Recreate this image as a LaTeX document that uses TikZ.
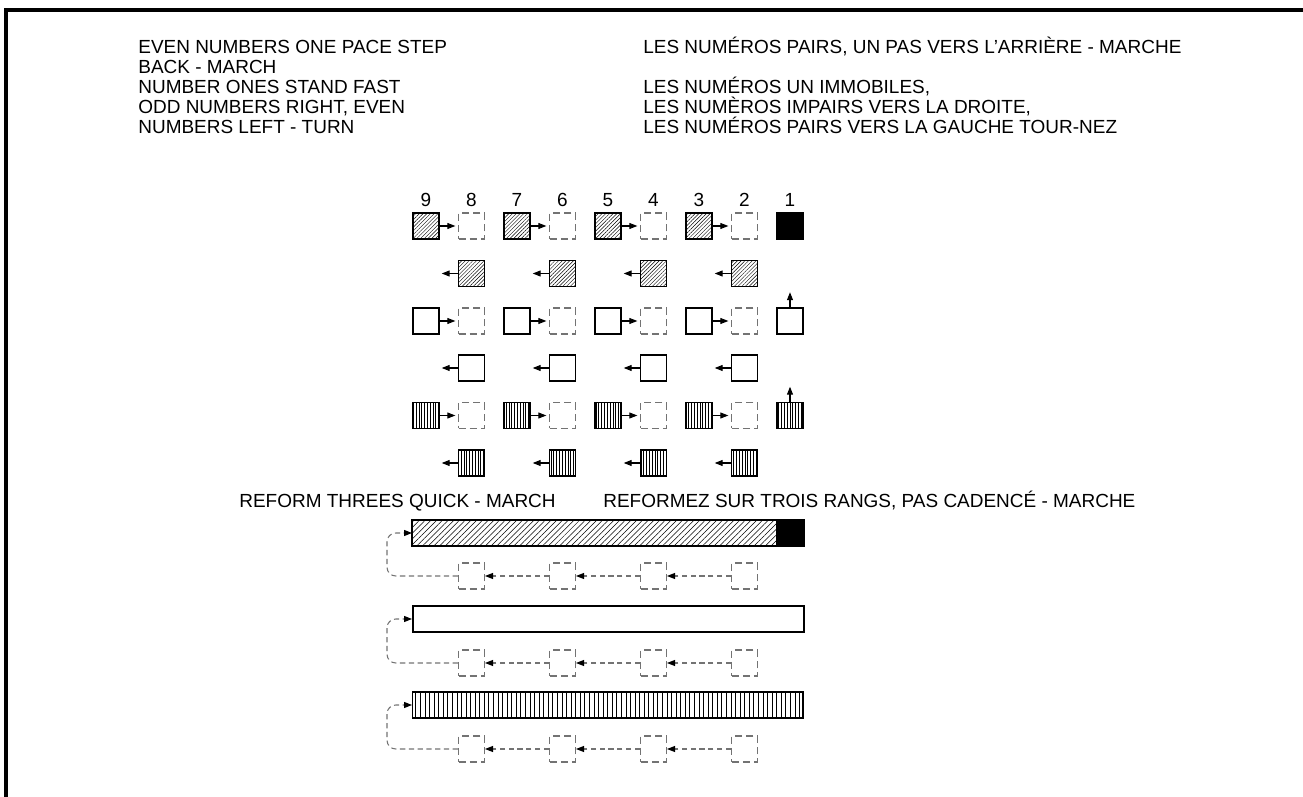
\documentclass[tikz,border=0pt]{standalone}
\usepackage{fontspec}
\setmainfont{Liberation Sans}
\usetikzlibrary{positioning,arrows.meta,calc,patterns.meta}

\begin{document}
\begin{tikzpicture}[
  x=0.02cm, y=-0.02cm,
  txt/.style={font=\fontsize{10.8}{11.4}\selectfont, inner sep=0pt},
  man/.style={draw, line width=0.9pt, minimum size=0.52cm, inner sep=0pt},
  hatch/.style={man, pattern={Lines[angle=45,distance=1.5pt,line width=0.25pt]}},
  vhatch/.style={man, pattern={Lines[angle=90,distance=1.6pt,line width=0.35pt]}},
  lead/.style={man, fill=black},
  ghost/.style={draw=black!55, dash pattern=on 4pt off 2.4pt, line width=0.6pt,
                minimum size=0.52cm, inner sep=0pt},
  bar/.style={draw, line width=0.9pt, minimum height=0.52cm, inner sep=0pt, anchor=west},
  arrow/.style={-{Triangle[length=1.6mm,width=1.2mm]}, line width=0.6pt},
  darrow/.style={-{Triangle[length=1.6mm,width=1.2mm,black]}, line width=0.6pt,
                 draw=black!55, dash pattern=on 3pt off 2pt}
]
  \useasboundingbox (0,0) rectangle (1303,797);
  \draw[line width=0.08cm] (6,797) -- (6,10) -- (1303,10);

  % commands
  \foreach \t [count=\i] in {EVEN NUMBERS ONE PACE STEP, BACK - MARCH, NUMBER ONES STAND FAST,
                             {ODD NUMBERS RIGHT, EVEN}, NUMBERS LEFT - TURN}
    \node[txt, anchor=base west] (en\i) at (138,{54+(\i-1)*20}) {\t};
  \node[txt, anchor=base west] (fr1) at (643,54) {LES NUMÉROS PAIRS, UN PAS VERS L'ARRIÈRE - MARCHE};
  \node[txt, anchor=base west] (fr3) at (643,94) {LES NUMÉROS UN IMMOBILES,};
  \node[txt, anchor=base west] (fr4) at (643,114) {LES NUMÈROS IMPAIRS VERS LA DROITE,};
  \node[txt, anchor=base west] (fr5) at (643,134) {LES NUMÉROS PAIRS VERS LA GAUCHE TOUR-NEZ};

  % files
  \foreach \n in {1,...,9}
    \node[txt, anchor=base] (n\n) at ({426+(9-\n)*45.5},207) {\n};

  \foreach \o/\e in {9/8,7/6,5/4,3/2} {
    \node[hatch]  (r1c\o) at ({426+(9-\o)*45.5},226) {};
    \node[ghost]  (r1c\e) at ({426+(9-\e)*45.5},226) {};
    \node[hatch]  (r2c\e) at ({426+(9-\e)*45.5},273.5) {};
    \node[man]    (r3c\o) at ({426+(9-\o)*45.5},321) {};
    \node[ghost]  (r3c\e) at ({426+(9-\e)*45.5},321) {};
    \node[man]    (r4c\e) at ({426+(9-\e)*45.5},368) {};
    \node[vhatch] (r5c\o) at ({426+(9-\o)*45.5},415.5) {};
    \node[ghost]  (r5c\e) at ({426+(9-\e)*45.5},415.5) {};
    \node[vhatch] (r6c\e) at ({426+(9-\e)*45.5},463) {};
    \draw[arrow, shorten >=1.5pt] (r1c\o) -- (r1c\e);
    \draw[arrow, shorten >=1.5pt] (r3c\o) -- (r3c\e);
    \draw[arrow, shorten >=1.5pt] (r5c\o) -- (r5c\e);
    \draw[arrow] (r2c\e.west) -- ++(-16,0);
    \draw[arrow] (r4c\e.west) -- ++(-16,0);
    \draw[arrow] (r6c\e.west) -- ++(-16,0);
  }
  \node[lead]   (r1c1) at (790,226) {};
  \node[man]    (r3c1) at (790,321) {};
  \node[vhatch] (r5c1) at (790,415.5) {};
  \draw[arrow] (r3c1.north) -- ++(0,-15);
  \draw[arrow] (r5c1.north) -- ++(0,-15);

  % reform threes
  \node[txt, anchor=base east] (refen) at (556,507) {REFORM THREES QUICK - MARCH};
  \node[txt, anchor=base west] (reffr) at (603,507) {REFORMEZ SUR TROIS RANGS, PAS CADENCÉ - MARCHE};

  \node[bar, minimum width=7.3cm, pattern={Lines[angle=45,distance=2.3pt,line width=0.3pt]}] (bar1) at (412,533) {};
  \node[lead, anchor=west] (bar1end) at (bar1.east) {};
  \node[bar, minimum width=7.82cm] (bar2) at (412,619) {};
  \node[bar, minimum width=7.82cm, pattern={Lines[angle=90,distance=2.6pt,line width=0.35pt]}] (bar3) at (412,705) {};

  \foreach \r/\y in {1/576,2/663,3/749} {
    \foreach \e in {8,6,4,2}
      \node[ghost] (g\r c\e) at ({426+(9-\e)*45.5},\y) {};
    \draw[darrow] (g\r c2.west) -- (g\r c4.east);
    \draw[darrow] (g\r c4.west) -- (g\r c6.east);
    \draw[darrow] (g\r c6.west) -- (g\r c8.east);
    \draw[darrow, rounded corners=5pt] (g\r c8.west) -| ($(bar\r.west)+(-25,0)$) -- (bar\r.west);
  }
\end{tikzpicture}
\end{document}
